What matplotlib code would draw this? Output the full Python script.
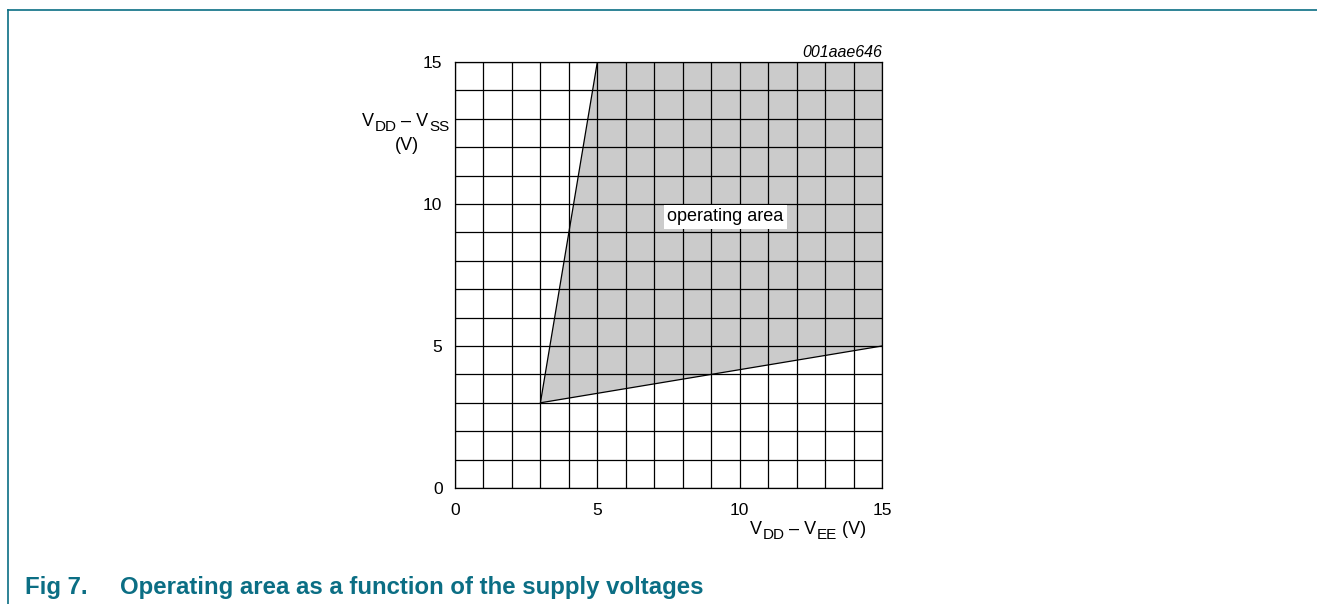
import matplotlib
matplotlib.use("Agg")
import matplotlib.pyplot as plt
from matplotlib.lines import Line2D

plt.rcParams["font.family"] = ["Liberation Sans", "DejaVu Sans"]

# operating area boundary (V_DD - V_EE, V_DD - V_SS)
area_x = [3, 5, 15, 15]
area_y = [3, 15, 15, 5]
x_ticks = [0, 5, 10, 15]
y_ticks = [0, 5, 10, 15]
grid_step = 1

W, H = 1317, 604
TEAL = "#0b6e84"
FS = 12.5
LAB = 13
SUB = 11

fig = plt.figure(figsize=(W / 100, H / 100), dpi=100)
ax = fig.add_axes([455 / W, 1 - 488 / H, 427 / W, 426 / H])

ax.fill(area_x, area_y, facecolor="#cbcbcb", edgecolor="none", zorder=1)
ax.plot([area_x[-1], area_x[0], area_x[1]], [area_y[-1], area_y[0], area_y[1]],
        color="black", lw=0.9, zorder=3)

for v in range(0, 16, grid_step):
    ax.axvline(v, color="black", lw=0.9, zorder=2)
    ax.axhline(v, color="black", lw=0.9, zorder=2)

ax.set_xlim(0, 15)
ax.set_ylim(0, 15)
ax.set_xticks(x_ticks)
ax.set_yticks(y_ticks)
ax.tick_params(axis="x", length=0, labelsize=FS, pad=11)
ax.tick_params(axis="y", length=0, labelsize=FS, pad=9)
for s in ax.spines.values():
    s.set_linewidth(0.9)

ax.text(9.5, 9.55, "operating area", ha="center", va="center", fontsize=13,
        bbox=dict(facecolor="white", edgecolor="none", pad=2.5), zorder=4)

ax.text(15, 15.18, "001aae646", ha="right", va="baseline", fontsize=11.5, style="italic")


def sub_label(x0, y0, parts):
    """Write text with large subscripts, starting at pixel (x0, baseline y0)."""
    base = fig.text(x0 / W, 1 - y0 / H, parts[0][0], fontsize=LAB, va="bottom")
    prev = base
    for s, is_sub in parts[1:]:
        if is_sub:
            prev = ax.annotate(s, xy=(1, 0), xycoords=(prev, base), xytext=(0.3, -3.2),
                               textcoords="offset points", fontsize=SUB, va="bottom")
        else:
            prev = ax.annotate(s, xy=(1, 0), xycoords=(prev, base), xytext=(0, 0),
                               textcoords="offset points", fontsize=LAB, va="bottom")


sub_label(362, 130, [("V", False), ("DD", True), (" – V", False), ("SS", True)])
fig.text(407 / W, 1 - 146 / H, "(V)", fontsize=LAB, ha="center", va="center")
sub_label(750, 538, [("V", False), ("DD", True), (" – V", False), ("EE", True), (" (V)", False)])

fig.text(25 / W, 1 - 594 / H, "Fig 7.", color=TEAL, fontsize=17.3, fontweight="bold",
         va="baseline", ha="left")
fig.text(120 / W, 1 - 594 / H, "Operating area as a function of the supply voltages",
         color=TEAL, fontsize=17.3, fontweight="bold", va="baseline", ha="left")

# page frame
fig.add_artist(Line2D([7.5 / W, 1], [1 - 9.5 / H, 1 - 9.5 / H], color=TEAL, lw=1.2))
fig.add_artist(Line2D([7.5 / W, 7.5 / W], [0, 1 - 9.5 / H], color=TEAL, lw=1.2))

fig.savefig("out.png", dpi=100, facecolor="white")
